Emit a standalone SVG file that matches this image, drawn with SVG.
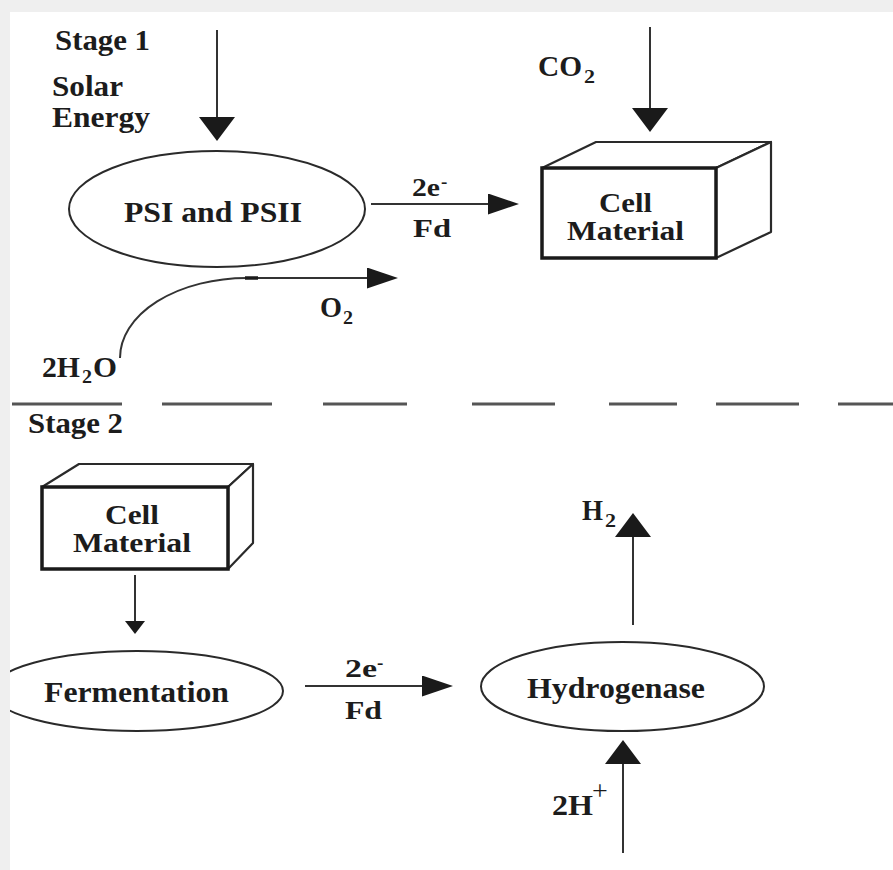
<svg xmlns="http://www.w3.org/2000/svg" width="893" height="870" viewBox="0 0 893 870">
<style>
text{font-family:"Liberation Serif","Times New Roman",serif;font-weight:bold;fill:#1c1c1c;font-size:29px}
.box{font-size:28px}
.sm{font-size:26px}
.sub{font-size:19px}
.sup{font-size:19px}
.plus{font-weight:normal;font-size:28px}
.conn{stroke:#333;stroke-width:2;fill:none}
.ell{stroke:#2a2a2a;stroke-width:2;fill:#fff}
.front{stroke:#1a1a1a;stroke-width:3.5;fill:#fff}
.back{stroke:#2a2a2a;stroke-width:2.2;fill:#fff;stroke-linejoin:round}
.sep{stroke:#555;stroke-width:3}
.frame{fill:#efefef}
</style>
<defs>
<marker id="big" markerUnits="userSpaceOnUse" markerWidth="26" markerHeight="38" refX="0" refY="18" orient="auto" viewBox="0 0 26 38">
<path d="M0,0 L24,18 L0,36 z" fill="#1a1a1a"/>
</marker>
<marker id="med" markerUnits="userSpaceOnUse" markerWidth="32" markerHeight="22" refX="0" refY="10.5" orient="auto" viewBox="0 0 32 22">
<path d="M0,0 L31,10.5 L0,21 z" fill="#1a1a1a"/>
</marker>
<marker id="small" markerUnits="userSpaceOnUse" markerWidth="14" markerHeight="22" refX="0" refY="10" orient="auto" viewBox="0 0 14 22">
<path d="M0,0 L13,10 L0,20 z" fill="#1a1a1a"/>
</marker>
</defs>
<rect width="893" height="870" fill="#fff"/>

<g id="separator">
<path class="sep" d="M12,404H122M162,404H272M323,404H407M472,404H555M609,404H677M716,404H799M838,404H893"/>
</g>

<g id="labels-stage">
<text x="55" y="50" textLength="95" lengthAdjust="spacingAndGlyphs">Stage 1</text>
<text x="28" y="433" textLength="95" lengthAdjust="spacingAndGlyphs">Stage 2</text>
</g>

<g id="solar-energy">
<text x="52" y="96"><tspan textLength="71" lengthAdjust="spacingAndGlyphs">Solar</tspan><tspan x="52" y="127" textLength="98" lengthAdjust="spacingAndGlyphs">Energy</tspan></text>
</g>

<g id="psi-psii">
<ellipse class="ell" cx="217" cy="209" rx="148" ry="58"/>
<text x="124" y="222" textLength="178" lengthAdjust="spacingAndGlyphs">PSI and PSII</text>
</g>

<g id="cell-material-1">
<path class="back" d="M542,168 L596,142 L771,142 L716,168 Z"/>
<path class="back" d="M716,168 L771,142 L771,232 L716,258 Z"/>
<rect class="front" x="542" y="168" width="174" height="90"/>
<text class="box" x="599" y="212"><tspan textLength="53" lengthAdjust="spacingAndGlyphs">Cell</tspan><tspan x="567" y="240" textLength="117" lengthAdjust="spacingAndGlyphs">Material</tspan></text>
</g>

<g id="co2">
<text x="538" y="76"><tspan textLength="44" lengthAdjust="spacingAndGlyphs">CO</tspan><tspan class="sub" x="584" y="83" textLength="11" lengthAdjust="spacingAndGlyphs">2</tspan></text>
</g>

<g id="o2">
<text x="320" y="317"><tspan textLength="22" lengthAdjust="spacingAndGlyphs">O</tspan><tspan class="sub" x="343" y="324" textLength="10" lengthAdjust="spacingAndGlyphs">2</tspan></text>
</g>

<g id="h2o">
<text x="42" y="377"><tspan textLength="38" lengthAdjust="spacingAndGlyphs">2H</tspan><tspan class="sub" x="82" y="383" textLength="10" lengthAdjust="spacingAndGlyphs">2</tspan><tspan x="93" y="377" textLength="24" lengthAdjust="spacingAndGlyphs">O</tspan></text>
</g>

<g id="cell-material-2">
<path class="back" d="M42,487 L79,464 L253,464 L228,487 Z"/>
<path class="back" d="M228,487 L253,464 L253,543 L228,569 Z"/>
<rect class="front" x="42" y="487" width="186" height="82"/>
<text class="box" x="105" y="524"><tspan textLength="54" lengthAdjust="spacingAndGlyphs">Cell</tspan><tspan x="73" y="552" textLength="118" lengthAdjust="spacingAndGlyphs">Material</tspan></text>
</g>

<g id="fermentation">
<ellipse class="ell" cx="137" cy="691" rx="146" ry="40"/>
<text x="44" y="702" textLength="185" lengthAdjust="spacingAndGlyphs">Fermentation</text>
</g>

<g id="hydrogenase">
<ellipse class="ell" cx="622.5" cy="686.5" rx="141.5" ry="44.5"/>
<text x="527" y="698" textLength="178" lengthAdjust="spacingAndGlyphs">Hydrogenase</text>
</g>

<g id="h2">
<text x="582" y="520"><tspan textLength="21" lengthAdjust="spacingAndGlyphs">H</tspan><tspan class="sub" x="605" y="527" textLength="11" lengthAdjust="spacingAndGlyphs">2</tspan></text>
</g>

<g id="h-plus">
<text x="552" y="815"><tspan textLength="41" lengthAdjust="spacingAndGlyphs">2H</tspan><tspan class="plus" x="592" y="800">+</tspan></text>
</g>

<g id="connector-labels">
<text class="sm" x="412" y="196"><tspan textLength="28" lengthAdjust="spacingAndGlyphs">2e</tspan><tspan class="sup" x="441" y="188">-</tspan></text>
<text class="sm" x="413" y="237" textLength="38" lengthAdjust="spacingAndGlyphs">Fd</text>
<text class="sm" x="345" y="677"><tspan textLength="32" lengthAdjust="spacingAndGlyphs">2e</tspan><tspan class="sup" x="377" y="669">-</tspan></text>
<text class="sm" x="345" y="719" textLength="37" lengthAdjust="spacingAndGlyphs">Fd</text>
</g>

<g id="connectors">
<line class="conn" x1="217" y1="30" x2="217" y2="117" marker-end="url(#big)"/>
<line class="conn" x1="650" y1="27" x2="650" y2="108" marker-end="url(#big)"/>
<line class="conn" x1="371" y1="204" x2="488" y2="204" marker-end="url(#med)"/>
<path class="conn" d="M120,358 A127,80 0 0 1 247,278 L367,278" marker-end="url(#med)"/>
<line x1="245" y1="278" x2="258" y2="278" stroke="#1a1a1a" stroke-width="3.5"/>
<line class="conn" x1="135" y1="575" x2="135" y2="621" marker-end="url(#small)"/>
<line class="conn" x1="305" y1="686" x2="422" y2="686" marker-end="url(#med)"/>
<line class="conn" x1="633" y1="625" x2="633" y2="537" marker-end="url(#big)"/>
<line class="conn" x1="623" y1="853" x2="623" y2="764" marker-end="url(#big)"/>
</g>

<g id="frame">
<rect class="frame" x="0" y="0" width="893" height="12"/>
<rect class="frame" x="0" y="0" width="10" height="870"/>
</g>
</svg>
